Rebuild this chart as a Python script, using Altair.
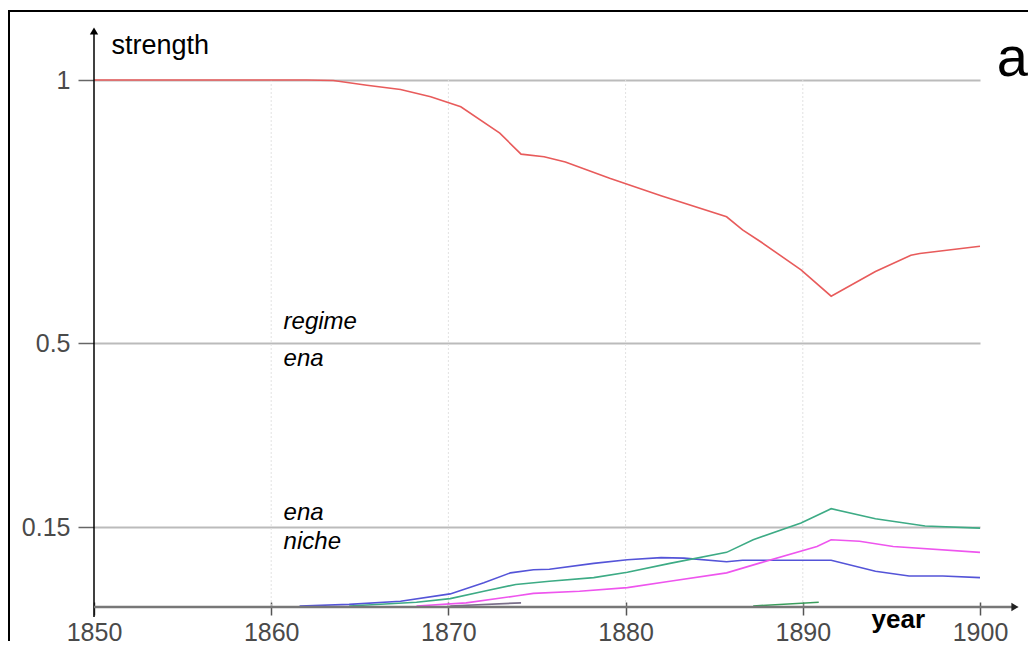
import altair as alt
import pandas as pd

# ---- data ----
x_ticks = [1850, 1860, 1870, 1880, 1890, 1900]
y_ticks = [0.15, 0.5, 1]
v_grid_years = [1860, 1870, 1880, 1890]

regime_years = [1850, 1855, 1860, 1862, 1863.5, 1865.4, 1867.3, 1869, 1870.7, 1872.9,
                1874.1, 1875.4, 1876.6, 1879.1, 1882, 1885.7, 1886.6, 1887.6, 1889.9,
                1891.6, 1894.1, 1896.1, 1896.6, 1900]
regime_values = [1.0, 1.0, 1.0, 1.0, 0.999, 0.990, 0.982, 0.968, 0.949, 0.899,
                 0.859, 0.854, 0.844, 0.813, 0.78, 0.740, 0.715, 0.693, 0.639,
                 0.589, 0.636, 0.667, 0.670, 0.684]

blue_years = [1861.6, 1864.4, 1867.3, 1870.1, 1872.0, 1873.5, 1874.8, 1875.7, 1878.2,
              1880.1, 1882.0, 1883.3, 1885.7, 1886.6, 1891.6, 1894.1, 1896.0, 1897.9, 1900]
blue_values = [0.0, 0.003, 0.009, 0.023, 0.044, 0.063, 0.069, 0.070, 0.081,
               0.088, 0.092, 0.091, 0.084, 0.087, 0.087, 0.066, 0.057, 0.057, 0.054]

green_years = [1864.4, 1868.2, 1870.1, 1872.0, 1873.8, 1875.7, 1878.2, 1880.1, 1882.5,
               1885.7, 1887.2, 1889.9, 1891.6, 1894.1, 1896.9, 1900]
green_values = [0.0, 0.007, 0.014, 0.028, 0.041, 0.047, 0.054, 0.064, 0.081,
                0.102, 0.126, 0.158, 0.185, 0.166, 0.152, 0.148]

pink_years = [1868.2, 1871.0, 1873.8, 1874.8, 1877.4, 1880.1, 1882.5, 1885.7, 1887.6,
              1890.8, 1891.6, 1893.2, 1895.1, 1900]
pink_values = [0.0, 0.006, 0.019, 0.024, 0.028, 0.035, 0.047, 0.063, 0.082,
               0.113, 0.126, 0.123, 0.113, 0.102]

gray_years = [1870.1, 1874.1]
gray_values = [0.0, 0.006]

green2_years = [1887.2, 1890.9]
green2_values = [0.0, 0.007]

series_names = ["regime", "blue", "green", "pink", "gray", "green2"]
series_colors = ["#e85b5b", "#5454d8", "#3dab85", "#ee55ee", "#7a6f8a", "#3a9e5c"]

note_years = [1860.7, 1860.7, 1860.7, 1860.7]
note_values = [0.527, 0.456, 0.163, 0.109]
note_texts = ["regime", "ena", "ena", "niche"]

# ---- tables ----
rows = []
for name, ys, vs in [("regime", regime_years, regime_values),
                     ("blue", blue_years, blue_values),
                     ("green", green_years, green_values),
                     ("pink", pink_years, pink_values),
                     ("gray", gray_years, gray_values),
                     ("green2", green2_years, green2_values)]:
    for y, v in zip(ys, vs):
        rows.append({"year": y, "value": v, "series": name})
lines_df = pd.DataFrame(rows)
notes_df = pd.DataFrame({"year": note_years, "value": note_values, "label": note_texts})
vgrid_df = pd.DataFrame({"year": v_grid_years})
one = pd.DataFrame({"k": [0]})

FONT = "Liberation Sans"
xs = alt.Scale(domain=[1850, 1900], nice=False, zero=False)
ys_ = alt.Scale(domain=[0, 1], nice=False, zero=False)

x_axis = alt.Axis(values=x_ticks, format="d", domain=False, grid=False,
                  tickSize=13, tickColor="#555555", tickWidth=1.5, offset=-4,
                  labelFont=FONT, labelFontSize=25, labelColor="#4a4a4a",
                  labelPadding=5, labelFlush=False, labelOverlap=False,
                  title="year", titleFont=FONT, titleFontSize=26, titleFontWeight="bold",
                  titleColor="black", titleX=777, titleY=25, titleAlign="left",
                  titleBaseline="alphabetic", titleAngle=0)
y_axis = alt.Axis(values=y_ticks, format=".2~f", domain=False, grid=True,
                  gridColor="#bbbbbb", gridWidth=2,
                  tickSize=16, tickColor="#666666", tickWidth=1.5,
                  labelFont=FONT, labelFontSize=25, labelColor="#4a4a4a",
                  labelPadding=8, labelFlush=False, labelOverlap=False,
                  title="strength", titleFont=FONT, titleFontSize=27,
                  titleFontWeight="normal", titleColor="black", titleAngle=0,
                  titleX=17, titleY=-27, titleAlign="left", titleBaseline="alphabetic")

vgrid = alt.Chart(vgrid_df).mark_rule(color="#e2e2e2", strokeDash=[2, 2], strokeWidth=1).encode(
    x=alt.X("year:Q", scale=xs, axis=x_axis)
)

lines = alt.Chart(lines_df).mark_line(strokeWidth=1.6, clip=False).encode(
    x=alt.X("year:Q", scale=xs, axis=x_axis),
    y=alt.Y("value:Q", scale=ys_, axis=y_axis),
    color=alt.Color("series:N", scale=alt.Scale(domain=series_names, range=series_colors),
                    legend=None),
)

notes = alt.Chart(notes_df).mark_text(font=FONT, fontSize=24, fontStyle="italic",
                                      align="left", baseline="alphabetic",
                                      color="black").encode(
    x=alt.X("year:Q", scale=xs),
    y=alt.Y("value:Q", scale=ys_),
    text="label:N",
)

# axis lines with arrows (decoration)
y_line = alt.Chart(one).mark_rule(color="black", strokeWidth=1.5).encode(
    x=alt.value(0), y=alt.value(-48), y2=alt.value(537))
x_line = alt.Chart(one).mark_rule(color="#777777", strokeWidth=2.5).encode(
    x=alt.value(0), x2=alt.value(918), y=alt.value(527))
y_arrow = alt.Chart(one).mark_point(shape="triangle-up", filled=True, size=70,
                                    color="black", opacity=1).encode(
    x=alt.value(0), y=alt.value(-49))
x_arrow = alt.Chart(one).mark_point(shape="triangle-right", filled=True, size=70,
                                    color="#222222", opacity=1).encode(
    x=alt.value(921), y=alt.value(527))

# frame edges
frame_top = alt.Chart(one).mark_rule(color="black", strokeWidth=2).encode(
    x=alt.value(-86), x2=alt.value(934), y=alt.value(-69))
frame_left = alt.Chart(one).mark_rule(color="black", strokeWidth=2).encode(
    x=alt.value(-85), y=alt.value(-69), y2=alt.value(561))

panel_letter = alt.Chart(pd.DataFrame({"t": ["a"]})).mark_text(
    font=FONT, fontSize=56, align="right", baseline="alphabetic", color="black").encode(
    text="t:N", x=alt.value(934), y=alt.value(-4))

chart = alt.layer(vgrid, lines, notes, y_line, x_line, y_arrow, x_arrow,
                  frame_top, frame_left, panel_letter).properties(
    width=886, height=526,
    autosize=alt.AutoSizeParams(type="none"),
    padding={"left": 86, "top": 72, "right": 48, "bottom": 43},
    background="white",
).configure_view(stroke=None)

chart.save("out.html", embed_options={"renderer": "svg", "actions": False})
